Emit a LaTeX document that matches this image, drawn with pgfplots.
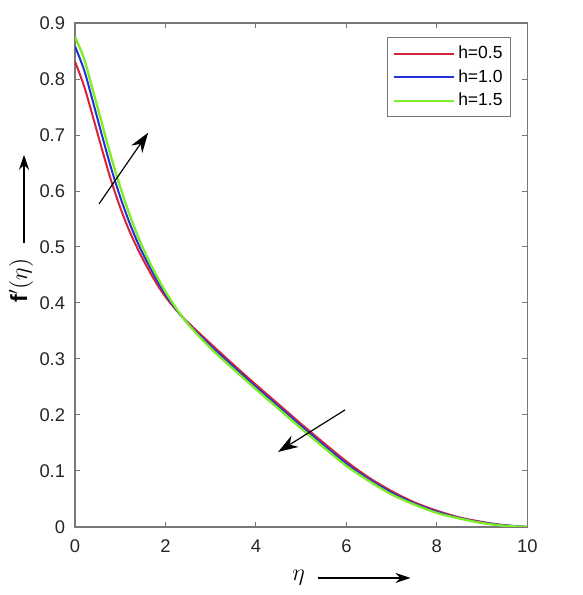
\documentclass[border=0pt]{standalone}
\usepackage{pgfplots}
\pgfplotsset{compat=1.18}
\usepackage{fontspec}
\setmainfont{Liberation Sans}
\usetikzlibrary{arrows.meta}
\definecolor{cred}{RGB}{214,36,56}
\definecolor{cblue}{RGB}{35,50,215}
\definecolor{cgreen}{RGB}{128,236,40}
\definecolor{axgray}{RGB}{120,120,120}
\definecolor{txt}{RGB}{38,38,38}
\begin{document}
\begin{tikzpicture}
\useasboundingbox (-45pt,-40.8pt) rectangle (304pt,315.8pt);
\begin{axis}[
  at={(0,0)}, anchor=south west,
  scale only axis, width=271pt, height=302pt,
  xmin=0, xmax=10, ymin=0, ymax=0.9,
  xtick={0,2,4,6,8,10},
  ytick={0,0.1,0.2,0.3,0.4,0.5,0.6,0.7,0.8,0.9},
  yticklabel style={/pgf/number format/fixed, /pgf/number format/precision=1, xshift=-2.5pt},
  xticklabel style={yshift=-4pt},
  /pgf/number format/assume math mode=true,
  tick align=inside, tick pos=both,
  major tick length=3pt,
  axis line style={axgray, line width=0.7pt},
  every tick/.style={axgray, line width=0.6pt},
  tick label style={font=\fontsize{11}{13}\selectfont, text=txt},
  legend style={at={(0.965,0.972)}, anchor=north east, draw=axgray, line width=0.6pt,
    font=\fontsize{10.5}{12}\selectfont, row sep=1pt, inner sep=3pt},
  legend cell align=left,
  legend image code/.code={\draw[#1] (0pt,0pt) -- (36pt,0pt);},
]
\addplot[cred, line width=1.2pt, smooth] coordinates {
(0,0.831) (0.2,0.787) (0.4,0.731) (0.6,0.673) (0.8,0.618) (1.0,0.570)
(1.2,0.529) (1.4,0.494) (1.6,0.463) (1.8,0.435) (2.0,0.411) (2.25,0.386)
(2.5,0.365) (3.0,0.327) (3.5,0.290) (4.0,0.254) (4.5,0.219) (5.0,0.184)
(5.5,0.150) (6.0,0.117) (6.5,0.088) (7.0,0.064) (7.5,0.044) (8.0,0.029)
(8.5,0.017) (9.0,0.009) (9.5,0.003) (10,0.000)};
\addlegendentry{h=0.5}
\addplot[cblue, line width=1.2pt, smooth] coordinates {
(0,0.858) (0.2,0.816) (0.4,0.758) (0.6,0.698) (0.8,0.640) (1.0,0.589)
(1.2,0.544) (1.4,0.505) (1.6,0.472) (1.8,0.442) (2.0,0.415) (2.25,0.387)
(2.5,0.363) (3.0,0.323) (3.5,0.286) (4.0,0.250) (4.5,0.215) (5.0,0.180)
(5.5,0.146) (6.0,0.113) (6.5,0.085) (7.0,0.061) (7.5,0.042) (8.0,0.027)
(8.5,0.016) (9.0,0.008) (9.5,0.003) (10,0.000)};
\addlegendentry{h=1.0}
\addplot[cgreen, line width=1.4pt, smooth] coordinates {
(0,0.875) (0.2,0.836) (0.4,0.778) (0.6,0.719) (0.8,0.660) (1.0,0.607)
(1.2,0.559) (1.4,0.517) (1.6,0.481) (1.8,0.449) (2.0,0.420) (2.25,0.389)
(2.5,0.362) (3.0,0.319) (3.5,0.282) (4.0,0.246) (4.5,0.211) (5.0,0.176)
(5.5,0.142) (6.0,0.109) (6.5,0.082) (7.0,0.058) (7.5,0.040) (8.0,0.025)
(8.5,0.015) (9.0,0.007) (9.5,0.002) (10,0.000)};
\addlegendentry{h=1.5}
\draw[black, line width=0.7pt, -{Stealth[length=12pt,width=8pt]}] (axis cs:0.53,0.577) -- (axis cs:1.615,0.704);
\draw[black, line width=0.7pt, -{Stealth[length=12pt,width=8pt]}] (axis cs:5.97,0.209) -- (axis cs:4.49,0.134);
\end{axis}
% y label and arrow
\node[rotate=90, font=\fontsize{14}{16}\selectfont, text=black] at (-32.4pt,147.5pt) {\textbf{f}$'(\eta)$};
\draw[black, line width=0.7pt, -{Stealth[length=9pt,width=6pt]}] (-30.6pt,170pt) -- (-30.6pt,223pt);
% x label and arrow
\node[font=\fontsize{14}{16}\selectfont] at (134pt,-30.6pt) {$\eta$};
\draw[black, line width=0.7pt, -{Stealth[length=9pt,width=6pt]}] (145.8pt,-30.6pt) -- (201pt,-30.6pt);
\end{tikzpicture}
\end{document}
